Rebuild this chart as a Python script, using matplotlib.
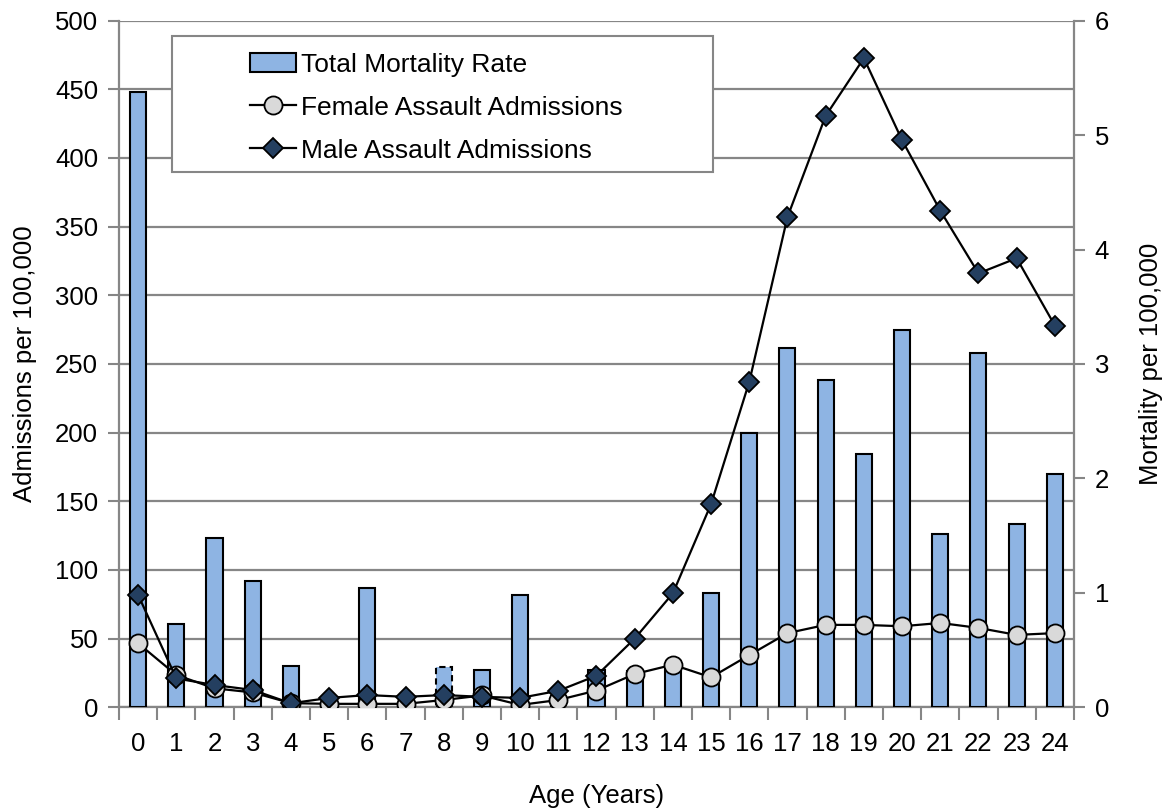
import numpy as np
import matplotlib
matplotlib.use("Agg")
import matplotlib.pyplot as plt
from matplotlib.ticker import MultipleLocator
from matplotlib.patches import Rectangle

plt.rcParams['font.family'] = ['Liberation Sans', 'DejaVu Sans']

ages = list(range(25))
# total mortality rate (per 100,000), right axis
mortality = [5.38, 0.73, 1.48, 1.10, 0.36, 0, 1.04, 0, 0.35, 0.33, 0.98, 0, 0.33,
             0.32, 0.36, 1.00, 2.40, 3.14, 2.86, 2.21, 3.30, 1.51, 3.10, 1.60, 2.04]
# assault admissions (per 100,000), left axis
female = [46.6, 23.5, 13.8, 10.8, 3, 2.5, 2.5, 2.5, 5.3, 8.6, 1.7, 5.3, 12.2,
          24.2, 31, 21.8, 38, 54, 60, 60, 59, 61.4, 57.8, 52.7, 54]
male = [81.8, 21, 16.2, 12.6, 2.9, 6.8, 8.9, 7.6, 8.9, 7.6, 6.8, 12, 23,
        50, 83, 148, 237, 357, 430.7, 472.7, 413, 361.7, 316, 327, 278]
dashed_ages = [8]

grey = '#868686'
fs = 18.5

fig = plt.figure(figsize=(11.75, 8.11), dpi=100)
ax = fig.add_axes([0.1013, 0.1279, 0.8127, 0.8466])
ax2 = ax.twinx()
ax3 = ax.twinx()

# left axis: grid + ticks
ax.set_xlim(-0.5, 24.5)
ax.set_ylim(0, 500)
ax.yaxis.set_major_locator(MultipleLocator(50))
ax.grid(axis='y', color=grey, linewidth=1.6)
ax.set_xticks(ages)
ax.set_xticks(np.arange(-0.5, 25, 1), minor=True)
ax.tick_params(axis='x', which='major', length=0, pad=18, labelsize=fs)
ax.tick_params(axis='x', which='minor', length=9, width=1.5, color=grey, direction='out')
ax.tick_params(axis='y', length=8, width=1.5, color=grey, pad=7, labelsize=fs)
for s in ['top', 'right']:
    ax.spines[s].set_visible(False)
for s in ['left', 'bottom']:
    ax.spines[s].set_color(grey)
    ax.spines[s].set_linewidth(1.6)
ax.set_ylabel('Admissions per 100,000', fontsize=fs)
ax.yaxis.set_label_coords(-0.086, 0.5)
ax.set_xlabel('Age (Years)', fontsize=fs)
ax.xaxis.set_label_coords(0.5, -0.112)

# right axis: bars
bars = ax2.bar(ages, mortality, width=0.42, color='#8EB4E3', edgecolor='black', linewidth=1.5,
               label='Total Mortality Rate')
for a in dashed_ages:
    bars[a].set_linestyle((0, (3, 2)))
ax2.set_ylim(0, 6)
ax2.yaxis.set_major_locator(MultipleLocator(1))
ax2.tick_params(axis='y', length=8, width=1.5, color=grey, pad=7, labelsize=fs)
for s in ['top', 'left', 'bottom']:
    ax2.spines[s].set_visible(False)
ax2.spines['right'].set_color(grey)
ax2.spines['right'].set_linewidth(1.6)
ax2.set_ylabel('Mortality per 100,000', fontsize=fs)
ax2.yaxis.set_label_coords(1.068, 0.5)

# lines on top, left scale
ax3.set_ylim(0, 500)
ax3.set_xlim(-0.5, 24.5)
ln_f, = ax3.plot(ages, female, color='black', linewidth=1.6, marker='o', markersize=13,
                 markerfacecolor='#D9D9D9', markeredgecolor='black', markeredgewidth=1.3,
                 label='Female Assault Admissions')
ln_m, = ax3.plot(ages, male, color='black', linewidth=1.6, marker='D', markersize=10,
                 markerfacecolor='#243F60', markeredgecolor='black', markeredgewidth=1.3,
                 label='Male Assault Admissions')
ax3.axis('off')

# legend box
ax3.add_patch(Rectangle((0.0556, 0.780), 0.566, 0.197, transform=ax3.transAxes,
                        facecolor='white', edgecolor=grey, linewidth=1.5, zorder=4,
                        clip_on=False))
leg = ax3.legend(handles=[bars, ln_f, ln_m], loc='upper left', bbox_to_anchor=(0.126, 0.969),
                 frameon=False, fontsize=19, handlelength=1.75, handletextpad=0.2,
                 labelspacing=0.72, borderaxespad=0)
leg.set_zorder(5)

fig.savefig('out.png', dpi=100)
